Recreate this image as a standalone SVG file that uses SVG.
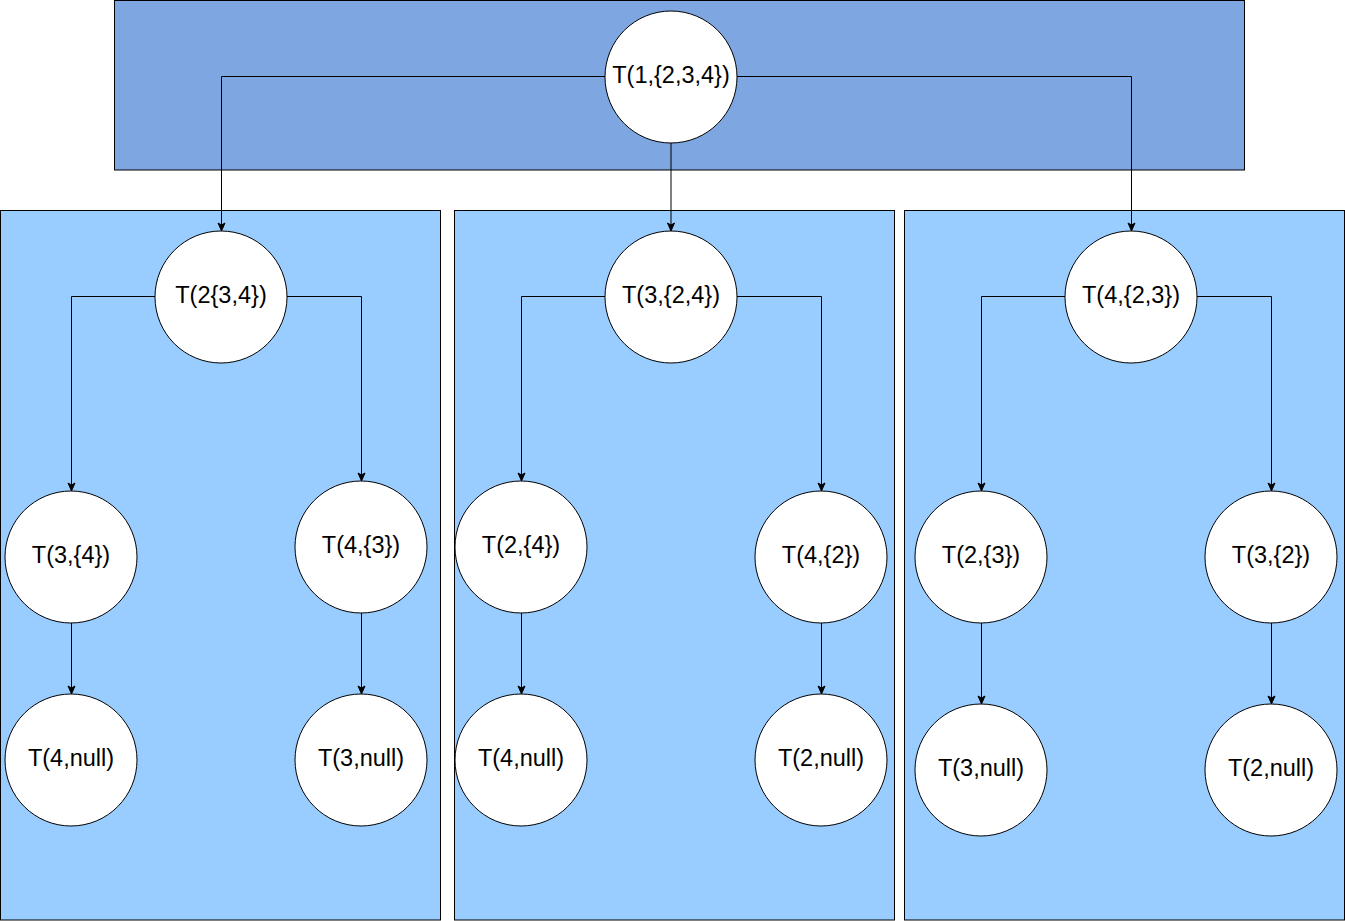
<svg xmlns="http://www.w3.org/2000/svg" width="1345" height="921" viewBox="0 0 1345 921">
<style>
.bg{fill:#7EA6E0;stroke:#000;stroke-width:1}
.panel{fill:#99CCFF;stroke:#000;stroke-width:1}
.node circle{fill:#fff;stroke:#000;stroke-width:1}
.node text{font-family:"Liberation Sans",Arial,sans-serif;font-size:23.5px;fill:#000;text-anchor:middle}
.edge{fill:none;stroke:#000;stroke-width:1}
</style>
<defs>
<marker id="arr" markerUnits="userSpaceOnUse" markerWidth="10" markerHeight="10" viewBox="0 0 10 10" refX="9" refY="5" orient="auto">
<path d="M1,1.5 L9,5 L1,8.5 L3,5 Z" fill="#000" stroke="#000" stroke-width="1"/>
</marker>
</defs>
<rect class="bg" x="114.5" y="0.5" width="1130" height="169.5"/>
<rect class="panel" x="0.5" y="210.5" width="440" height="709.5"/>
<rect class="panel" x="454.5" y="210.5" width="440" height="709.5"/>
<rect class="panel" x="904.5" y="210.5" width="440" height="709.5"/>
<g id="connectors">
<path class="edge" marker-end="url(#arr)" d="M605,76.5 H221.5 V231"/>
<path class="edge" marker-end="url(#arr)" d="M671,143 V231"/>
<path class="edge" marker-end="url(#arr)" d="M737,76.5 H1131.5 V231"/>
<path class="edge" marker-end="url(#arr)" d="M155,296.5 H71.5 V491"/>
<path class="edge" marker-end="url(#arr)" d="M287,296.5 H361.5 V481"/>
<path class="edge" marker-end="url(#arr)" d="M71.5,623 V694"/>
<path class="edge" marker-end="url(#arr)" d="M361.5,613 V694"/>
<path class="edge" marker-end="url(#arr)" d="M605,296.5 H521.5 V481"/>
<path class="edge" marker-end="url(#arr)" d="M737,296.5 H821.5 V491"/>
<path class="edge" marker-end="url(#arr)" d="M521.5,613 V694"/>
<path class="edge" marker-end="url(#arr)" d="M821.5,623 V694"/>
<path class="edge" marker-end="url(#arr)" d="M1065,296.5 H981.5 V491"/>
<path class="edge" marker-end="url(#arr)" d="M1197,296.5 H1271.5 V491"/>
<path class="edge" marker-end="url(#arr)" d="M981.5,623 V704"/>
<path class="edge" marker-end="url(#arr)" d="M1271.5,623 V704"/>
</g>
<g id="n1" class="node"><circle cx="671" cy="77" r="66"/><text x="671" y="83">T(1,{2,3,4})</text></g>
<g id="n2" class="node"><circle cx="221" cy="297" r="66"/><text x="221" y="303">T(2{3,4})</text></g>
<g id="n3" class="node"><circle cx="671" cy="297" r="66"/><text x="671" y="303">T(3,{2,4})</text></g>
<g id="n4" class="node"><circle cx="1131" cy="297" r="66"/><text x="1131" y="303">T(4,{2,3})</text></g>
<g id="n5" class="node"><circle cx="71" cy="557" r="66"/><text x="71" y="563">T(3,{4})</text></g>
<g id="n6" class="node"><circle cx="361" cy="547" r="66"/><text x="361" y="553">T(4,{3})</text></g>
<g id="n7" class="node"><circle cx="71" cy="760" r="66"/><text x="71" y="766">T(4,null)</text></g>
<g id="n8" class="node"><circle cx="361" cy="760" r="66"/><text x="361" y="766">T(3,null)</text></g>
<g id="n9" class="node"><circle cx="521" cy="547" r="66"/><text x="521" y="553">T(2,{4})</text></g>
<g id="n10" class="node"><circle cx="821" cy="557" r="66"/><text x="821" y="563">T(4,{2})</text></g>
<g id="n11" class="node"><circle cx="521" cy="760" r="66"/><text x="521" y="766">T(4,null)</text></g>
<g id="n12" class="node"><circle cx="821" cy="760" r="66"/><text x="821" y="766">T(2,null)</text></g>
<g id="n13" class="node"><circle cx="981" cy="557" r="66"/><text x="981" y="563">T(2,{3})</text></g>
<g id="n14" class="node"><circle cx="1271" cy="557" r="66"/><text x="1271" y="563">T(3,{2})</text></g>
<g id="n15" class="node"><circle cx="981" cy="770" r="66"/><text x="981" y="776">T(3,null)</text></g>
<g id="n16" class="node"><circle cx="1271" cy="770" r="66"/><text x="1271" y="776">T(2,null)</text></g>
</svg>
